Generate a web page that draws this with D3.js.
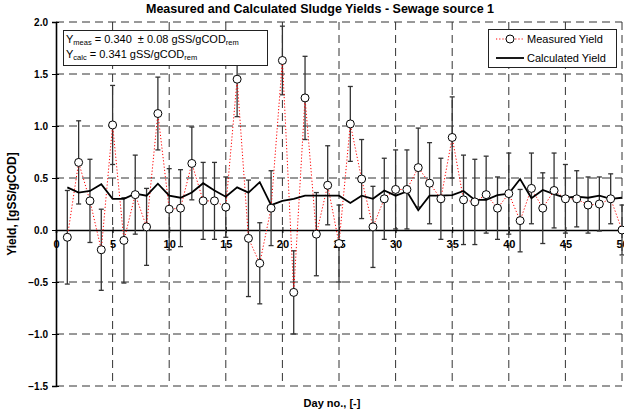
<!DOCTYPE html>
<html>
<head>
<meta charset="utf-8">
<script src="https://cdn.jsdelivr.net/npm/d3@7"></script>
<style>
  body { margin: 0; background: #fff; }
  svg { font-family: "Liberation Sans", Arial, sans-serif; }
</style>
</head>
<body>
<svg id="chart" width="624" height="414"></svg>
<script>
"use strict";

var days = d3.range(1, 51);

var measured = [-0.07, 0.65, 0.28, -0.19, 1.01, -0.10, 0.34, 0.03, 1.12, 0.20,
                0.21, 0.64, 0.28, 0.28, 0.22, 1.45, -0.08, -0.32, 0.21, 1.63,
                -0.60, 1.27, -0.04, 0.43, -0.13, 1.02, 0.49, 0.03, 0.30, 0.39,
                0.39, 0.60, 0.45, 0.30, 0.89, 0.29, 0.27, 0.34, 0.21, 0.35,
                0.09, 0.40, 0.21, 0.38, 0.30, 0.30, 0.24, 0.25, 0.30, 0.00];

var errors = [0.45, 0.40, 0.40, 0.39, 0.38, 0.41, 0.38, 0.37, 0.35, 0.39,
              0.37, 0.35, 0.37, 0.37, 0.29, 0.36, 0.56, 0.39, 0.36, 0.33,
              0.40, 0.40, 0.40, 0.38, 0.37, 0.36, 0.38, 0.39, 0.39, 0.38,
              0.38, 0.38, 0.39, 0.39, 0.39, 0.43, 0.41, 0.37, 0.30, 0.39,
              0.30, 0.34, 0.34, 0.36, 0.33, 0.27, 0.27, 0.26, 0.24, 0.24];

var calculated = [0.41, 0.36, 0.375, 0.44, 0.30, 0.30, 0.35, 0.33, 0.445, 0.33,
                  0.31, 0.36, 0.45, 0.38, 0.32, 0.41, 0.36, 0.46, 0.24, 0.28,
                  0.30, 0.33, 0.33, 0.33, 0.33, 0.26, 0.33, 0.30, 0.38, 0.33,
                  0.37, 0.19, 0.33, 0.33, 0.335, 0.375, 0.29, 0.29, 0.335, 0.35,
                  0.49, 0.305, 0.385, 0.345, 0.31, 0.32, 0.31, 0.33, 0.30, 0.31];

var x_ticks = d3.range(0, 51, 5);
var y_ticks = [-1.5, -1.0, -0.5, 0.0, 0.5, 1.0, 1.5, 2.0];

var svg = d3.select('#chart');
var plot_left = 56, plot_right = 622, plot_top = 22, plot_bottom = 386;

var x = d3.scaleLinear().domain([0, 50]).range([plot_left, plot_right]);
var y = d3.scaleLinear().domain([-1.5, 2.0]).range([plot_bottom, plot_top]);

// title
svg.append('text')
  .attr('x', 320).attr('y', 13)
  .attr('text-anchor', 'middle')
  .attr('font-size', 12.5).attr('font-weight', 'bold')
  .text('Measured and Calculated Sludge Yields - Sewage source 1');

// dashed grid
var grid = svg.append('g').attr('stroke', '#333').attr('stroke-width', 1)
  .attr('stroke-dasharray', '8,5').attr('fill', 'none');
grid.selectAll('.hgrid').data(y_ticks.filter(function(d) { return d !== 0; }))
  .enter().append('line')
  .attr('x1', plot_left).attr('x2', plot_right)
  .attr('y1', function(d) { return y(d); }).attr('y2', function(d) { return y(d); });
grid.selectAll('.vgrid').data(x_ticks.filter(function(d) { return d !== 0; }))
  .enter().append('line')
  .attr('y1', plot_top).attr('y2', plot_bottom)
  .attr('x1', function(d) { return x(d); }).attr('x2', function(d) { return x(d); });

// left axis, ticks crossing it
var y_axis = svg.append('g')
  .attr('transform', 'translate(' + plot_left + ',0)')
  .call(d3.axisLeft(y).tickValues(y_ticks).tickSize(4).tickFormat(d3.format('.1f')));
y_axis.select('.domain').attr('stroke-width', 1.6);
y_axis.selectAll('.tick line').attr('x1', 3);
y_axis.selectAll('text').attr('font-size', 10).attr('font-weight', 'bold')
  .attr('font-family', '"Liberation Sans", Arial, sans-serif').attr('dx', -1);

// zero line with day labels below it
var x_axis = svg.append('g')
  .attr('transform', 'translate(0,' + y(0) + ')')
  .call(d3.axisBottom(x).tickValues(x_ticks).tickSize(3));
x_axis.select('.domain').attr('stroke-width', 1.6);
x_axis.selectAll('.tick line').attr('y1', -3);
x_axis.selectAll('text').attr('font-size', 11).attr('font-weight', 'bold')
  .attr('font-family', '"Liberation Sans", Arial, sans-serif').attr('dy', '1.05em');

// error bars
var bars = svg.append('g').attr('stroke', '#333').attr('stroke-width', 1.3);
days.forEach(function(d, i) {
  var lo = y(measured[i] - errors[i]), hi = y(measured[i] + errors[i]);
  bars.append('line').attr('x1', x(d)).attr('x2', x(d)).attr('y1', lo).attr('y2', hi);
  bars.append('line').attr('x1', x(d) - 2.5).attr('x2', x(d) + 2.5).attr('y1', lo).attr('y2', lo);
  bars.append('line').attr('x1', x(d) - 2.5).attr('x2', x(d) + 2.5).attr('y1', hi).attr('y2', hi);
});

var line = d3.line()
  .x(function(d) { return x(d[0]); })
  .y(function(d) { return y(d[1]); });

svg.append('path')
  .datum(d3.zip(days, measured))
  .attr('fill', 'none').attr('stroke', '#f00').attr('stroke-width', 1)
  .attr('stroke-dasharray', '1.2,2')
  .attr('d', line);

svg.append('path')
  .datum(d3.zip(days, calculated))
  .attr('fill', 'none').attr('stroke', '#000').attr('stroke-width', 1.8)
  .attr('d', line);

svg.append('g').selectAll('circle')
  .data(d3.zip(days, measured)).enter().append('circle')
  .attr('cx', function(d) { return x(d[0]); })
  .attr('cy', function(d) { return y(d[1]); })
  .attr('r', 4).attr('fill', '#fff').attr('stroke', '#000').attr('stroke-width', 1);

// annotation box
svg.append('rect').attr('x', 63.5).attr('y', 30.5).attr('width', 204).attr('height', 35)
  .attr('fill', '#fff').attr('stroke', '#222').attr('stroke-width', 1);

function annotate(ypos, sub, rest) {
  var t = svg.append('text').attr('x', 66).attr('y', ypos).attr('font-size', 11)
    .attr('xml:space', 'preserve');
  t.append('tspan').text('Y');
  t.append('tspan').attr('font-size', 7.5).attr('dy', 2).text(sub);
  t.append('tspan').attr('dy', -2).text(rest);
  t.append('tspan').attr('font-size', 7.5).attr('dy', 2).text('rem');
}
annotate(43, 'meas', ' = 0.340 \u00a0\u00b1 0.08 gSS/gCOD');
annotate(58, 'calc', ' = 0.341 gSS/gCOD');

// legend
var legend = svg.append('g');
legend.append('rect').attr('x', 488.5).attr('y', 29.5).attr('width', 128).attr('height', 38)
  .attr('fill', '#fff').attr('stroke', '#222').attr('stroke-width', 1);
legend.append('line').attr('x1', 496).attr('x2', 524).attr('y1', 39).attr('y2', 39)
  .attr('stroke', '#f00').attr('stroke-dasharray', '1.2,2');
legend.append('circle').attr('cx', 510).attr('cy', 39).attr('r', 4)
  .attr('fill', '#fff').attr('stroke', '#000');
legend.append('line').attr('x1', 496).attr('x2', 524).attr('y1', 58).attr('y2', 58)
  .attr('stroke', '#000').attr('stroke-width', 1.8);
legend.append('text').attr('x', 527).attr('y', 43).attr('font-size', 11).text('Measured Yield');
legend.append('text').attr('x', 527).attr('y', 62).attr('font-size', 11).text('Calculated Yield');

// axis titles
svg.append('text')
  .attr('x', 332).attr('y', 407)
  .attr('text-anchor', 'middle').attr('font-size', 11).attr('font-weight', 'bold')
  .text('Day no., [-]');
svg.append('text')
  .attr('transform', 'translate(16,204) rotate(-90)')
  .attr('text-anchor', 'middle').attr('font-size', 12).attr('font-weight', 'bold')
  .text('Yield, [gSS/gCOD]');
</script>
</body>
</html>
